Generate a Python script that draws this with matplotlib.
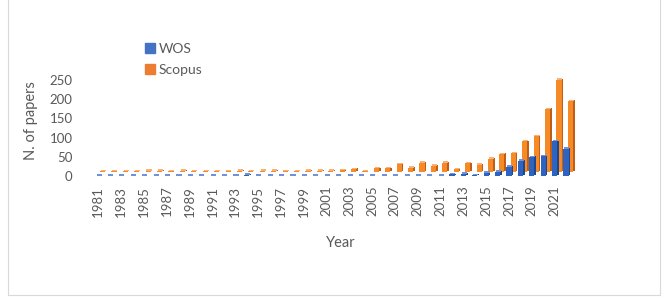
import numpy as np
import matplotlib
matplotlib.use("Agg")
import matplotlib.pyplot as plt
from matplotlib.patches import Patch, Rectangle

plt.rcParams['font.family'] = ['Lato', 'DejaVu Sans']

# data (1981-2022)
years = list(range(1981, 2023))
wos = [1, 1, 1, 1, 1, 1, 1, 1, 1, 1, 1, 1, 1, 3, 1, 1, 1, 1, 1, 1, 1,
       1, 1, 1, 1, 1, 1, 1, 1, 1, 1, 4, 6, 2, 8, 11, 24, 39, 49, 51, 90, 71]
scopus = [2, 2, 2, 2, 3, 4, 2, 3, 2, 2, 2, 2, 3, 2, 3, 4, 2, 2, 3, 4, 3,
          5, 8, 2, 10, 10, 20, 12, 24, 16, 25, 7, 23, 19, 35, 47, 49, 80, 94, 164, 241, 185]
tick_years = list(range(1981, 2022, 2))

blue, blue_side, blue_top = '#2F63C0', '#1E478F', '#6F93D6'
orange, orange_side, orange_top = '#F58A26', '#BF5F17', '#F7B27A'
text_col = '#595959'

x = np.array(years, dtype=float)
w = 0.45
side = 0.14
cap = 4           # height of the top face, in data units (3D look)
depth_dx = 0.38   # scopus row sits behind, shifted right
depth_dy = 10     # and raised a little (floor perspective)


def bars3d(xs, vals, base, front, dark, light, z):
    vals = np.array(vals, dtype=float)
    ax.bar(xs, vals, width=w, bottom=base, color=front, zorder=z)
    ax.bar(xs + w/2 + side/2, vals, width=side, bottom=base + cap/2, color=dark, zorder=z)
    ax.bar(xs + side/2, cap, width=w, bottom=base + vals, color=light, zorder=z)


fig = plt.figure(figsize=(6.64, 2.98), dpi=100)
ax = fig.add_axes([92/664, 1 - 176/298, 498/664, (176 - 64.6)/298])

# back row Scopus, front row WOS
bars3d(x + depth_dx, scopus, depth_dy, orange, orange_side, orange_top, 1)
bars3d(x, wos, 0, blue, blue_side, blue_top, 2)

ax.set_xlim(1980.45, 2024.1)
ax.set_ylim(0, 290)
ax.set_yticks([0, 50, 100, 150, 200, 250])
ax.set_xticks(tick_years)
ax.set_xticklabels([str(t) for t in tick_years], rotation=90)
ax.tick_params(axis='both', length=0, labelcolor=text_col, labelsize=9.5)
ax.tick_params(axis='y', pad=14)
ax.tick_params(axis='x', pad=7)
for s in ax.spines.values():
    s.set_visible(False)

ax.set_ylabel('N. of papers', color=text_col, fontsize=10.5, labelpad=8)
ax.set_xlabel('Year', color=text_col, fontsize=10.5, labelpad=14)

handles = [Patch(color='#4472C4', label='WOS'), Patch(color='#ED7D31', label='Scopus')]
fig.legend(handles=handles, loc='upper left', bbox_to_anchor=(138/664, 1 - 36/298),
           frameon=False, fontsize=10, handlelength=0.7, handleheight=0.7,
           handletextpad=0.3, labelspacing=0.65, borderpad=0, labelcolor=text_col)

fig.patches.append(Rectangle((8/664, 3/298), 652/664, 1.0, transform=fig.transFigure,
                             fill=False, edgecolor='#D9D9D9', linewidth=0.8))

fig.savefig('out.png', dpi=100)
